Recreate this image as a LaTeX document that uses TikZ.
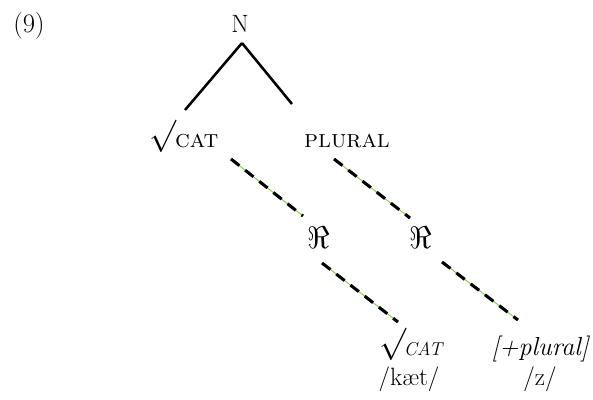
\documentclass[tikz,border=0pt]{standalone}
\usepackage{graphicx}
\definecolor{lgreen}{RGB}{140,200,70}
\newcommand{\bigroot}{\raisebox{0.2ex}{\scalebox{1.4}{$\surd$}}}
\newcommand{\bigRe}{\scalebox{1.35}{$\Re$}}
\tikzset{
  lbl/.style={anchor=base, inner sep=0pt, font=\fontsize{18.8}{22}\selectfont},
  branch/.style={line width=1.9pt, line cap=butt},
  assoc/.style={line width=2.3pt, black, dash pattern=on 8pt off 5.5pt,
    preaction={draw=lgreen, line width=0.7pt, solid}},
}
\begin{document}
\begin{tikzpicture}[x=0.75pt, y=-0.75pt]
\useasboundingbox (0,0) rectangle (593,400);
\node[lbl, font=\fontsize{20}{24}\selectfont] (ex) at (29,32) {(9)};
\node[lbl] (N) at (240,32) {N};
\node[lbl] (catL) at (184,147) {\bigroot\kern-1pt\textsc{cat}};
\node[lbl] (plur) at (347,147) {\textsc{plural}};
\node[lbl] (R1) at (319,248) {\bigRe};
\node[lbl] (R2) at (421,248) {\bigRe};
\node[lbl] (catR) at (411,355) {\bigroot\kern-2pt{\itshape\fontsize{14}{16}\selectfont CAT}};
\node[lbl] (kaet) at (409,385) {/kæt/};
\node[lbl, font=\fontsize{19.5}{22}\selectfont] (plus) at (540,355) {\itshape [+plural]};
\node[lbl] (z) at (540,385) {/z/};
\draw[branch] ([shift={(2,11)}]N.base) -- ([shift={(1,-37)}]catL.base);
\draw[branch] ([shift={(2,11)}]N.base) -- ([shift={(-55,-43)}]plur.base);
\draw[assoc] ([shift={(47,12)}]catL.base) -- ([shift={(-16,-32)}]R1.base);
\draw[assoc] ([shift={(-13,12)}]plur.base) -- ([shift={(-11,-30)}]R2.base);
\draw[assoc] ([shift={(3,15)}]R1.base) -- ([shift={(-13,-33)}]catR.base);
\draw[assoc] ([shift={(21,14)}]R2.base) -- ([shift={(-22,-35)}]plus.base);
\end{tikzpicture}
\end{document}
